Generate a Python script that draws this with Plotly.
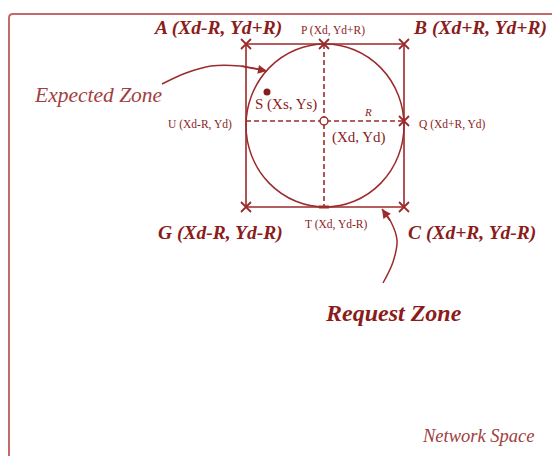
import plotly.graph_objects as go

# ---- data (diagram coordinates, y grows downward) ----
corner_names = ["A", "P", "B", "Q", "C", "G"]
corner_x = [246, 324, 404, 404, 404, 246]
corner_y = [44, 44, 44, 121, 207, 207]

square_x = [246, 404, 404, 246, 246]
square_y = [44, 44, 207, 207, 44]

center_xy = [324, 121]
source_xy = [267, 92]
circle_box = [246, 44, 404, 207]  # x0, y0, x1, y1

hdash_x = [246, 404]
hdash_y = [121, 121]
vdash_x = [324, 324]
vdash_y = [44, 207]

t_tick_x = [319, 329]
t_tick_y = [207, 207]

exp_arrow_x = [162, 186, 211, 240, 267]
exp_arrow_y = [84, 73, 66, 66, 71]
req_arrow_x = [383, 393, 397, 391, 382]
req_arrow_y = [283, 262, 240, 222, 209]

big_labels = ["A (Xd-R, Yd+R)", "B (Xd+R, Yd+R)", "G (Xd-R, Yd-R)", "C (Xd+R, Yd-R)"]
big_x = [217, 480, 220, 472]
big_y = [28, 28, 233, 233]

small_labels = ["P (Xd, Yd+R)", "U (Xd-R, Yd)", "Q (Xd+R, Yd)", "T (Xd, Yd-R)"]
small_x = [333, 200, 452, 336]
small_y = [30, 124, 124, 224]

mid_labels = ["S (Xs, Ys)", "(Xd, Yd)"]
mid_x = [286, 359]
mid_y = [104, 137]

LINE = "#9c2b2b"
TEXT = "#8a1c1c"
BORDER = "#c46a6a"
SERIF = "Liberation Serif"

fig = go.Figure()

# square
fig.add_trace(go.Scatter(x=square_x, y=square_y, mode="lines",
                         line=dict(color=LINE, width=1.6), hoverinfo="skip"))
# dashed cross
fig.add_trace(go.Scatter(x=hdash_x, y=hdash_y, mode="lines",
                         line=dict(color=LINE, width=1.6, dash="5px,3px"), hoverinfo="skip"))
fig.add_trace(go.Scatter(x=vdash_x, y=vdash_y, mode="lines",
                         line=dict(color=LINE, width=1.6, dash="5px,3px"), hoverinfo="skip"))
# T tick
fig.add_trace(go.Scatter(x=t_tick_x, y=t_tick_y, mode="lines",
                         line=dict(color=LINE, width=3), hoverinfo="skip"))
# corner markers
fig.add_trace(go.Scatter(x=corner_x, y=corner_y, mode="markers", text=corner_names,
                         marker=dict(symbol="x-thin", size=10, line=dict(color=LINE, width=1.8)),
                         hoverinfo="text"))
# source point
fig.add_trace(go.Scatter(x=[source_xy[0]], y=[source_xy[1]], mode="markers",
                         marker=dict(symbol="circle", size=7, color=TEXT), hoverinfo="skip"))
# center point
fig.add_trace(go.Scatter(x=[center_xy[0]], y=[center_xy[1]], mode="markers",
                         marker=dict(symbol="circle", size=8, color="white",
                                     line=dict(color=LINE, width=1.5)), hoverinfo="skip"))
# curved arrows
for ax_, ay_ in [(exp_arrow_x, exp_arrow_y), (req_arrow_x, req_arrow_y)]:
    fig.add_trace(go.Scatter(x=ax_, y=ay_, mode="lines", line=dict(color=LINE, width=1.5, shape="spline"),
                             hoverinfo="skip"))
    fig.add_annotation(x=ax_[-1], y=ay_[-1], ax=ax_[-2], ay=ay_[-2], xref="x", yref="y",
                       axref="x", ayref="y", text="", showarrow=True, arrowhead=2,
                       arrowsize=1.2, arrowwidth=1.5, arrowcolor=LINE)

shapes = [
    dict(type="circle", xref="x", yref="y", x0=circle_box[0], y0=circle_box[1],
         x1=circle_box[2], y1=circle_box[3], line=dict(color=LINE, width=1.5), layer="below"),
    dict(type="path", xref="x", yref="y",
         path="M 9,470 L 9,18 Q 9,14 13,14 L 570,14",
         line=dict(color=BORDER, width=2)),
]

for t, x, y in zip(big_labels, big_x, big_y):
    fig.add_annotation(x=x, y=y, text=t, showarrow=False, xanchor="center", yanchor="middle",
                       font=dict(family=SERIF, size=19.5, color=TEXT, style="italic", weight="bold"))
for t, x, y in zip(small_labels, small_x, small_y):
    fig.add_annotation(x=x, y=y, text=t, showarrow=False, xanchor="center", yanchor="middle",
                       font=dict(family=SERIF, size=11.5, color=TEXT))
for t, x, y in zip(mid_labels, mid_x, mid_y):
    fig.add_annotation(x=x, y=y, text=t, showarrow=False, xanchor="center", yanchor="middle",
                       font=dict(family=SERIF, size=15, color=TEXT))
fig.add_annotation(x=368, y=112, text="R", showarrow=False,
                   font=dict(family=SERIF, size=11, color=TEXT, style="italic"))
fig.add_annotation(x=98, y=95, text="Expected Zone", showarrow=False,
                   font=dict(family=SERIF, size=21.5, color="#a04040", style="italic"))
fig.add_annotation(x=393, y=313, text="Request Zone", showarrow=False,
                   font=dict(family=SERIF, size=24, color=TEXT, style="italic", weight="bold"))
fig.add_annotation(x=478, y=436, text="Network Space", showarrow=False,
                   font=dict(family=SERIF, size=18.5, color="#a04040", style="italic"))

fig.update_layout(
    width=552, height=456, margin=dict(l=0, r=0, t=0, b=0),
    paper_bgcolor="white", plot_bgcolor="white", showlegend=False,
    shapes=shapes,
    xaxis=dict(range=[0, 552], visible=False, fixedrange=True),
    yaxis=dict(range=[456, 0], visible=False, fixedrange=True),
)

fig.write_html("out.html", config={"displayModeBar": False},
               post_script="document.body.style.margin='0';document.body.style.overflow='hidden';")
